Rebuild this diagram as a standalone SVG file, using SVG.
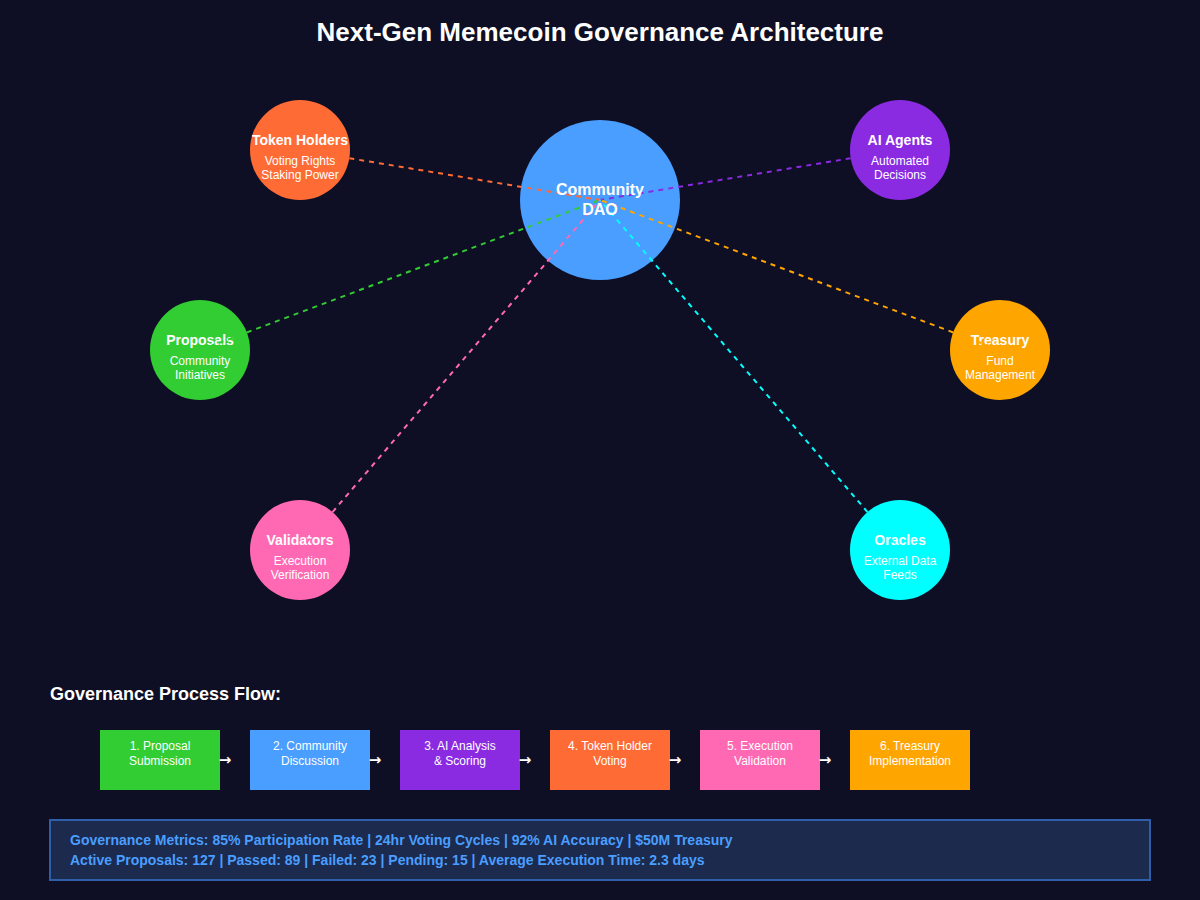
<svg xmlns="http://www.w3.org/2000/svg" width="1200" height="900" viewBox="0 0 1200 900">
<style>
text{font-family:"Liberation Sans",Arial,sans-serif;fill:#fff}
.t{font-size:14px;font-weight:bold;text-anchor:middle}
.s{font-size:12px;text-anchor:middle}
.c{stroke-width:2;stroke-dasharray:5,5;fill:none}
.b{font-size:12px;text-anchor:middle}
.ar{font-family:"DejaVu Sans",sans-serif;font-size:15px;font-weight:bold;text-anchor:middle}
.m{font-size:14px;font-weight:bold;fill:#4a9eff}
</style>
<rect width="1200" height="900" fill="#0e0f24"/>
<text x="600" y="41" text-anchor="middle" font-size="26" font-weight="bold">Next-Gen Memecoin Governance Architecture</text>
<g id="dao"><circle cx="600" cy="200" r="80" fill="#4a9eff"/></g>
<g id="token-holders"><circle cx="300" cy="150" r="50" fill="#ff6b35"/><text class="t" x="300" y="145">Token Holders</text><text class="s" x="300" y="165">Voting Rights</text><text class="s" x="300" y="179">Staking Power</text></g>
<g id="ai-agents"><circle cx="900" cy="150" r="50" fill="#8a2be2"/><text class="t" x="900" y="145">AI Agents</text><text class="s" x="900" y="165">Automated</text><text class="s" x="900" y="179">Decisions</text></g>
<g id="proposals"><circle cx="200" cy="350" r="50" fill="#32cd32"/><text class="t" x="200" y="345">Proposals</text><text class="s" x="200" y="365">Community</text><text class="s" x="200" y="379">Initiatives</text></g>
<g id="treasury"><circle cx="1000" cy="350" r="50" fill="#ffa500"/><text class="t" x="1000" y="345">Treasury</text><text class="s" x="1000" y="365">Fund</text><text class="s" x="1000" y="379">Management</text></g>
<g id="validators"><circle cx="300" cy="550" r="50" fill="#ff69b4"/><text class="t" x="300" y="545">Validators</text><text class="s" x="300" y="565">Execution</text><text class="s" x="300" y="579">Verification</text></g>
<g id="oracles"><circle cx="900" cy="550" r="50" fill="#00ffff"/><text class="t" x="900" y="545">Oracles</text><text class="s" x="900" y="565">External Data</text><text class="s" x="900" y="579">Feeds</text></g>
<g id="connectors">
<line class="c" x1="300" y1="150" x2="600" y2="200" stroke="#ff6b35"/>
<line class="c" x1="900" y1="150" x2="600" y2="200" stroke="#8a2be2"/>
<line class="c" x1="200" y1="350" x2="600" y2="200" stroke="#32cd32"/>
<line class="c" x1="1000" y1="350" x2="600" y2="200" stroke="#ffa500"/>
<line class="c" x1="300" y1="550" x2="600" y2="200" stroke="#ff69b4"/>
<line class="c" x1="900" y1="550" x2="600" y2="200" stroke="#00ffff"/>
</g>
<g id="dao-label"><text x="600" y="195" text-anchor="middle" font-size="16" font-weight="bold">Community</text><text x="600" y="215" text-anchor="middle" font-size="16" font-weight="bold">DAO</text></g>
<text x="50" y="700" font-size="18" font-weight="bold">Governance Process Flow:</text>
<g id="step1"><rect x="100" y="730" width="120" height="60" fill="#32cd32"/><text class="b" x="160" y="750">1. Proposal</text><text class="b" x="160" y="765">Submission</text></g>
<g id="step2"><rect x="250" y="730" width="120" height="60" fill="#4a9eff"/><text class="b" x="310" y="750">2. Community</text><text class="b" x="310" y="765">Discussion</text></g>
<g id="step3"><rect x="400" y="730" width="120" height="60" fill="#8a2be2"/><text class="b" x="460" y="750">3. AI Analysis</text><text class="b" x="460" y="765">&amp; Scoring</text></g>
<g id="step4"><rect x="550" y="730" width="120" height="60" fill="#ff6b35"/><text class="b" x="610" y="750">4. Token Holder</text><text class="b" x="610" y="765">Voting</text></g>
<g id="step5"><rect x="700" y="730" width="120" height="60" fill="#ff69b4"/><text class="b" x="760" y="750">5. Execution</text><text class="b" x="760" y="765">Validation</text></g>
<g id="step6"><rect x="850" y="730" width="120" height="60" fill="#ffa500"/><text class="b" x="910" y="750">6. Treasury</text><text class="b" x="910" y="765">Implementation</text></g>
<g id="flow-arrows">
<text class="ar" x="225" y="765">→</text><text class="ar" x="375" y="765">→</text><text class="ar" x="525" y="765">→</text><text class="ar" x="675" y="765">→</text><text class="ar" x="825" y="765">→</text>
</g>
<g id="metrics"><rect x="50" y="820" width="1100" height="60" fill="#1c2a4d" stroke="#2f5fa8" stroke-width="2"/>
<text class="m" x="70" y="845">Governance Metrics: 85% Participation Rate | 24hr Voting Cycles | 92% AI Accuracy | $50M Treasury</text>
<text class="m" x="70" y="865">Active Proposals: 127 | Passed: 89 | Failed: 23 | Pending: 15 | Average Execution Time: 2.3 days</text></g>
</svg>
